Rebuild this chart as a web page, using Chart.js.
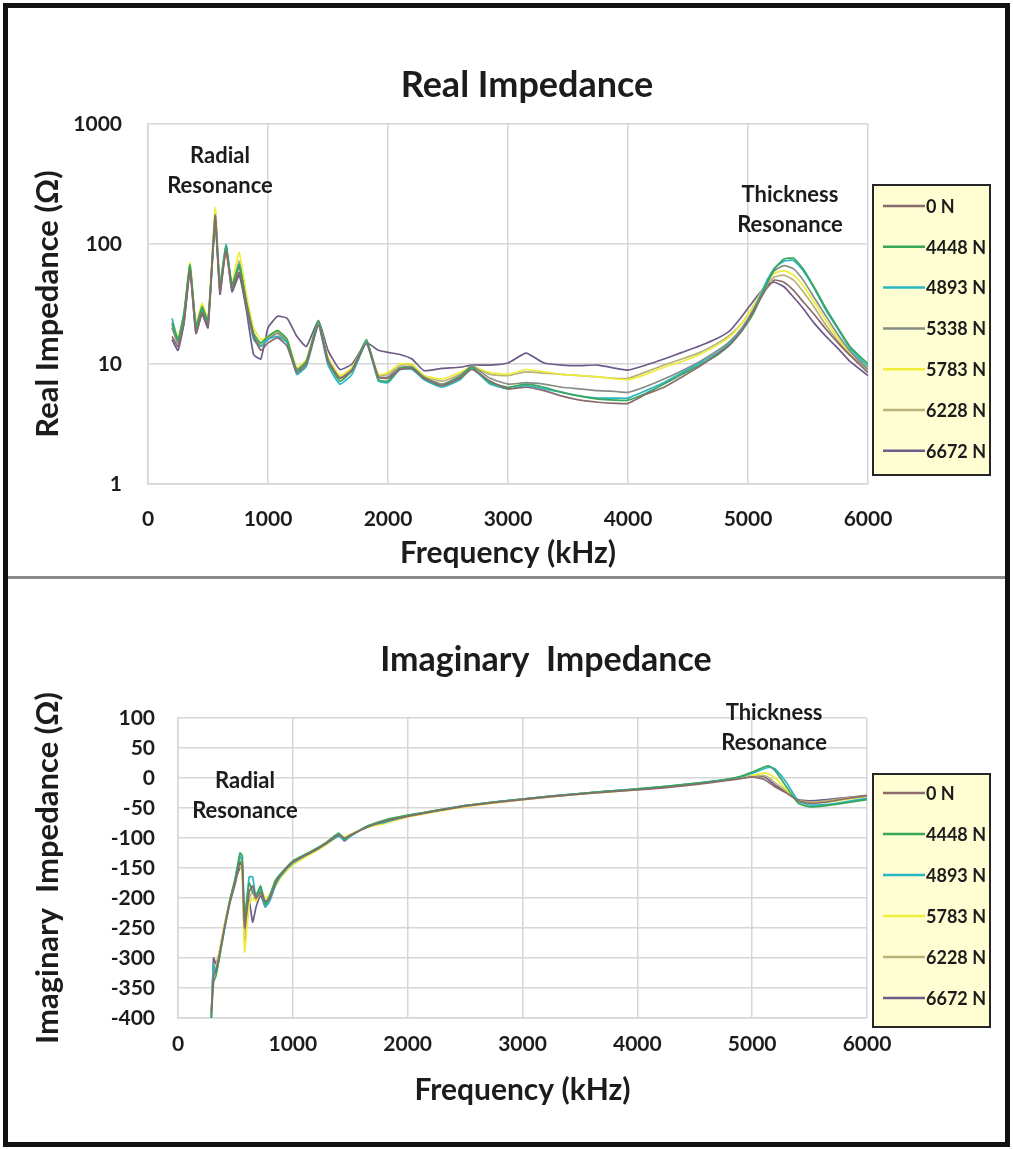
<!DOCTYPE html>
<html>
<head>
<meta charset="utf-8">
<title>Real and Imaginary Impedance</title>
<script src="https://cdn.jsdelivr.net/npm/chart.js@4.4.1/dist/chart.umd.min.js"></script>
<style>
  html, body { margin: 0; padding: 0; background: #fff; }
  body { width: 1013px; height: 1149px; position: relative; overflow: hidden; }
  .frame { position: absolute; left: 3px; top: 3px; width: 997px; height: 1134px; border: 5px solid #111; pointer-events: none; z-index: 2; }
  .divider { position: absolute; left: 8px; top: 576px; width: 997px; height: 3px; background: #8a8a8a; z-index: 2; }
  #realChart { position: absolute; left: 0; top: 0; }
  #imagChart { position: absolute; left: 0; top: 580px; }
</style>
</head>
<body>
<canvas id="realChart" width="1013" height="578"></canvas>
<canvas id="imagChart" width="1013" height="569"></canvas>
<div class="divider"></div>
<div class="frame"></div>

<script>
// Impedanzmessung unter Last - Real- und Imaginaerteil

const forceLabels = ["0 N", "4448 N", "4893 N", "5338 N", "5783 N", "6228 N", "6672 N"];
const seriesColors = ["#8a6b6b", "#3aa65a", "#2bb5c5", "#858d85", "#eded3a", "#b9b27a", "#6d5c8a"];

const freqTicks = [0, 1000, 2000, 3000, 4000, 5000, 6000];
const realTicks = [1, 10, 100, 1000];
const imagTicks = [100, 50, 0, -50, -100, -150, -200, -250, -300, -350, -400];

// Realteil (Ohm), Frequenz in kHz
const realFreq = [200, 250, 300, 350, 400, 450, 500, 560, 600, 650, 700, 760, 820, 880, 940, 1000, 1080, 1160, 1240, 1320,
  1420, 1500, 1600, 1700, 1820, 1920, 2000, 2100, 2200, 2300, 2450, 2600, 2700, 2850, 3000, 3150, 3300, 3450, 3600, 3750,
  3900, 4000, 4150, 4300, 4450, 4600, 4750, 4850, 4950, 5050, 5150, 5220, 5300, 5380, 5460, 5550, 5650, 5750, 5850, 6000];

const real0N = [17, 14, 22, 60, 18, 27, 21, 170, 40, 88, 42, 58, 30, 17, 13, 15, 16.5, 14, 8.5, 10,
  21, 10.5, 7.6, 8.8, 14.8, 7.8, 7.6, 9.0, 9.2, 7.6, 6.6, 7.6, 9.0, 7.2, 6.2, 6.4, 6.0, 5.4, 5.0, 4.8,
  4.7, 4.7, 5.6, 6.4, 7.8, 9.6, 12.2, 14.5, 19, 28, 42, 50, 48, 41, 33, 26, 19.5, 15, 11.8, 8.5];
const real4448 = [22, 16, 27, 67, 20, 30, 23, 150, 44, 95, 46, 66, 33, 18, 15, 17, 19, 16, 8.8, 10.5,
  23, 10.5, 7.2, 8.8, 16, 7.4, 7.2, 9.2, 9.4, 7.6, 6.6, 7.8, 9.4, 7.0, 6.4, 6.8, 6.4, 5.8, 5.4, 5.1,
  5.0, 5.0, 5.7, 6.8, 8.2, 9.8, 12, 14.5, 19, 27, 45, 62, 75, 76, 62, 44, 29, 20, 14, 10];
const real4893 = [24, 16, 25, 62, 21, 29, 22, 155, 46, 100, 45, 68, 31, 16, 14, 16, 17, 15, 8.2, 9.6,
  21, 9.8, 6.8, 8.2, 15, 7.2, 7.0, 9.0, 9.0, 7.4, 6.4, 7.4, 9.2, 6.8, 6.2, 6.6, 6.2, 5.8, 5.4, 5.2,
  5.2, 5.2, 6.0, 7.0, 8.5, 10.2, 12.5, 15, 19.5, 28, 48, 63, 72, 73, 60, 43, 28, 19.5, 13.5, 9.5];
const real5338 = [20, 15, 24, 65, 19, 28, 22, 175, 42, 92, 44, 64, 32, 17, 14, 16, 18, 15, 9, 10.5,
  22, 11, 7.6, 9, 15.5, 7.8, 7.8, 9.4, 9.4, 7.8, 6.8, 8.0, 9.6, 7.6, 6.8, 7.0, 6.8, 6.4, 6.2, 6.0,
  5.9, 5.8, 6.5, 7.5, 8.8, 10.5, 13, 15.5, 20, 29, 47, 60, 66, 62, 50, 36, 25, 17.5, 12.8, 9];
const real5783 = [23, 17, 26, 70, 22, 32, 24, 200, 50, 85, 48, 85, 38, 20, 16, 17, 19, 16, 9.4, 11,
  22, 11.5, 8.0, 9.4, 15, 8.2, 8.5, 10, 10, 8.0, 7.5, 8.5, 9.5, 8.5, 8.2, 9.0, 8.6, 8.2, 8.0, 7.8,
  7.5, 7.4, 8.2, 9.4, 10.5, 12, 14.5, 17, 22, 31, 47, 57, 60, 55, 45, 33, 23, 16.5, 12.5, 9.5];
const real6228 = [21, 15, 25, 64, 20, 29, 22, 180, 44, 90, 45, 72, 34, 18, 14.5, 16.5, 18.5, 15.5, 9.2, 10.8,
  22, 11, 7.8, 9.2, 15, 8.0, 8.2, 9.8, 9.8, 8.0, 7.2, 8.2, 9.6, 8.2, 8.0, 8.6, 8.4, 8.2, 8.0, 7.8,
  7.6, 7.6, 8.6, 9.8, 11, 12.5, 15, 17.5, 22, 31, 45, 53, 55, 50, 40, 30, 21, 15.5, 12, 9];
const real6672 = [16, 13, 22, 60, 18, 26, 20, 160, 38, 98, 40, 55, 28, 12, 11, 20, 25, 24, 17, 14,
  23, 13, 9, 10, 15, 13, 12.5, 12, 11, 8.8, 9.2, 9.4, 9.8, 9.8, 10.2, 12.3, 10.2, 9.8, 9.7, 9.8,
  9.2, 8.9, 9.8, 11, 12.5, 14.2, 16.5, 19, 25, 34, 45, 48, 44, 36, 29, 22, 17, 13.5, 10.5, 8];

// Imaginaerteil (Ohm) - ohne 5338 N
const imagFreq = [290, 310, 330, 360, 400, 450, 500, 540, 560, 580, 620, 650, 680, 720, 760, 800, 850, 900, 1000, 1100,
  1200, 1300, 1400, 1450, 1500, 1650, 1800, 2000, 2250, 2500, 2750, 3000, 3250, 3500, 3750, 4000, 4250, 4500, 4750, 4900,
  5000, 5100, 5150, 5200, 5300, 5400, 5500, 5650, 5800, 6000];

const imag0N = [-390, -330, -320, -295, -255, -210, -175, -140, -150, -250, -190, -180, -200, -190, -205, -200, -175, -160, -140, -130,
  -120, -108, -95, -100, -95, -82, -72, -64, -55, -47, -41, -36, -31, -27, -23, -20, -16, -11, -5, -1,
  2, -2, -8, -15, -25, -38, -42, -40, -35, -30];
const imag4448 = [-400, -340, -330, -300, -255, -205, -165, -125, -130, -230, -175, -190, -195, -180, -210, -195, -170, -158, -138, -128,
  -118, -106, -92, -102, -96, -80, -70, -62, -54, -46, -40, -35, -30, -26, -22, -18, -14, -9, -3, 3,
  10, 18, 20, 12, -15, -42, -48, -46, -42, -36];
const imag4893 = [-395, -310, -325, -300, -258, -208, -168, -130, -140, -240, -165, -165, -200, -185, -215, -205, -178, -162, -142, -130,
  -120, -108, -97, -103, -97, -80, -74, -63, -55, -46, -40, -35, -30, -26, -22, -18, -14, -9, -3, 2,
  8, 15, 18, 15, -8, -38, -45, -44, -40, -34];
const imag5783 = [-395, -320, -315, -290, -250, -205, -170, -140, -160, -290, -210, -200, -205, -185, -200, -195, -180, -165, -145, -133,
  -122, -110, -96, -98, -94, -82, -76, -65, -56, -48, -42, -36, -31, -27, -23, -19, -15, -10, -4, 0,
  4, 8, 6, 0, -20, -38, -42, -40, -36, -31];
const imag6228 = [-400, -325, -318, -292, -252, -207, -172, -138, -155, -265, -200, -190, -205, -190, -208, -200, -176, -162, -141, -131,
  -121, -109, -96, -101, -95, -81, -73, -64, -55, -47, -41, -36, -31, -27, -23, -19, -15, -10, -4, 0,
  3, 4, 0, -8, -22, -37, -40, -38, -34, -30];
const imag6672 = [-400, -300, -310, -290, -250, -205, -170, -150, -148, -272, -205, -240, -215, -195, -215, -200, -175, -160, -140, -129,
  -119, -107, -95, -105, -97, -81, -72, -63, -54, -46, -40, -35, -30, -26, -22, -19, -15, -10, -4, 0,
  4, 2, -4, -12, -24, -36, -38, -36, -33, -29];

const realSeries = [real0N, real4448, real4893, real5338, real5783, real6228, real6672];
const imagSeries = [imag0N, imag4448, imag4893, imag5783, imag6228, imag6672];
const imagSeriesIdx = [0, 1, 2, 4, 5, 6];

const FONT = "Lato, 'Open Sans', sans-serif";
const TEXT = "#1c1c1c";
const GRID = "#d6d6d6";

function toPoints(xs, ys) {
  return xs.map((x, i) => ({ x: x, y: ys[i] }));
}

function makeDataset(label, color, xs, ys) {
  return {
    label: label,
    data: toPoints(xs, ys),
    borderColor: color,
    backgroundColor: color,
    borderWidth: 1.7,
    pointRadius: 0,
    fill: false,
    tension: 0.15
  };
}

// Diagrammtitel (frei positioniert, nicht ueber dem Plotbereich zentriert)
const chartHeading = {
  id: "chartHeading",
  afterDraw(chart, args, opts) {
    const ctx = chart.ctx;
    ctx.save();
    ctx.font = "bold " + opts.size + "px " + FONT;
    ctx.fillStyle = TEXT;
    ctx.textAlign = "center";
    ctx.textBaseline = "middle";
    ctx.fillText(opts.text, opts.x, opts.y);
    ctx.restore();
  }
};

// Legende im gelben Kasten rechts neben dem Diagramm
const boxLegend = {
  id: "boxLegend",
  afterDraw(chart, args, opts) {
    const ctx = chart.ctx;
    ctx.save();
    ctx.fillStyle = "#fffdd2";
    ctx.fillRect(opts.left, opts.top, opts.width, opts.height);
    ctx.lineWidth = 2;
    ctx.strokeStyle = "#262626";
    ctx.strokeRect(opts.left, opts.top, opts.width, opts.height);
    ctx.font = "bold 18px " + FONT;
    ctx.textBaseline = "middle";
    chart.data.datasets.forEach((ds, i) => {
      const y = opts.top + opts.firstRow + i * opts.rowGap;
      ctx.strokeStyle = ds.borderColor;
      ctx.lineWidth = 2.5;
      ctx.beginPath();
      ctx.moveTo(opts.left + 10, y);
      ctx.lineTo(opts.left + 52, y);
      ctx.stroke();
      ctx.fillStyle = TEXT;
      ctx.fillText(ds.label, opts.left + 53, y + 1);
    });
    ctx.restore();
  }
};

// Beschriftung der Resonanzen
const resonanceNotes = {
  id: "resonanceNotes",
  afterDatasetsDraw(chart, args, opts) {
    const { ctx, scales } = chart;
    ctx.save();
    ctx.font = "bold 22px " + FONT;
    ctx.fillStyle = TEXT;
    ctx.textAlign = "center";
    ctx.textBaseline = "middle";
    opts.notes.forEach(n => {
      const px = scales.x.getPixelForValue(n.x);
      const py = scales.y.getPixelForValue(n.y);
      n.lines.forEach((t, i) => ctx.fillText(t, px, py + (i - (n.lines.length - 1) / 2) * 30));
    });
    ctx.restore();
  }
};

function axisFont(size) {
  return { family: FONT, size: size, weight: "bold" };
}

function xScale(height, tickPad, titlePad) {
  return {
    type: "linear",
    min: 0,
    max: 6000,
    afterBuildTicks: s => { s.ticks = freqTicks.map(v => ({ value: v })); },
    ticks: { callback: v => String(v), padding: tickPad, font: axisFont(21), color: TEXT },
    grid: { color: GRID, lineWidth: 1.5, drawTicks: false },
    border: { color: GRID, width: 1.5 },
    title: { display: true, text: "Frequency (kHz)", font: axisFont(30), color: TEXT, padding: { top: 0, bottom: titlePad } },
    afterFit: s => { s.height = height; }
  };
}

function initCharts() {
  if (!window.Chart) {
    console.warn("Chart.js nicht geladen");
    return;
  }

  // Realteil, logarithmisch
  new Chart(document.getElementById("realChart"), {
    type: "line",
    data: {
      datasets: realSeries.map((ys, i) => makeDataset(forceLabels[i], seriesColors[i], realFreq, ys))
    },
    options: {
      responsive: false,
      animation: false,
      layout: { padding: { left: 0, right: 145, top: 124, bottom: 0 } },
      plugins: {
        legend: { display: false },
        tooltip: { enabled: false },
        chartHeading: { text: "Real Impedance", size: 36, x: 527, y: 85 },
        boxLegend: { left: 873, top: 185, width: 117, height: 290, firstRow: 21, rowGap: 40.8 },
        resonanceNotes: {
          notes: [
            { x: 600, y: 405, lines: ["Radial", "Resonance"] },
            { x: 5350, y: 192, lines: ["Thickness", "Resonance"] }
          ]
        }
      },
      scales: {
        x: xScale(94, 23, 7),
        y: {
          type: "logarithmic",
          min: 1,
          max: 1000,
          afterBuildTicks: s => { s.ticks = realTicks.map(v => ({ value: v })); },
          ticks: { callback: v => String(v), padding: 26, font: axisFont(21), color: TEXT },
          grid: { color: GRID, lineWidth: 1.5, drawTicks: false },
          border: { color: GRID, width: 1.5 },
          title: { display: true, text: "Real Impedance (Ω)", font: axisFont(31), color: TEXT, padding: { top: 29, bottom: 0 } },
          afterFit: s => { s.width = 148; }
        }
      }
    },
    plugins: [chartHeading, boxLegend, resonanceNotes]
  });

  // Imaginaerteil, linear
  new Chart(document.getElementById("imagChart"), {
    type: "line",
    data: {
      datasets: imagSeries.map((ys, i) => makeDataset(forceLabels[imagSeriesIdx[i]], seriesColors[imagSeriesIdx[i]], imagFreq, ys))
    },
    options: {
      responsive: false,
      animation: false,
      layout: { padding: { left: 0, right: 146, top: 138, bottom: 0 } },
      plugins: {
        legend: { display: false },
        tooltip: { enabled: false },
        chartHeading: { text: "Imaginary  Impedance", size: 34, x: 546, y: 80 },
        boxLegend: { left: 873, top: 194, width: 117, height: 253, firstRow: 19, rowGap: 41 },
        resonanceNotes: {
          notes: [
            { x: 583, y: -30, lines: ["Radial", "Resonance"] },
            { x: 5191, y: 84, lines: ["Thickness", "Resonance"] }
          ]
        }
      },
      scales: {
        x: xScale(131, 14, 41),
        y: {
          type: "linear",
          min: -400,
          max: 100,
          afterBuildTicks: s => { s.ticks = imagTicks.map(v => ({ value: v })); },
          ticks: { padding: 23, font: axisFont(21), color: TEXT },
          grid: { color: GRID, lineWidth: 1.5, drawTicks: false },
          border: { color: GRID, width: 1.5 },
          title: { display: true, text: "Imaginary  Impedance (Ω)", font: axisFont(31), color: TEXT, padding: { top: 29, bottom: 0 } },
          afterFit: s => { s.width = 178; }
        }
      }
    },
    plugins: [chartHeading, boxLegend, resonanceNotes]
  });
}

initCharts();
</script>
</body>
</html>
